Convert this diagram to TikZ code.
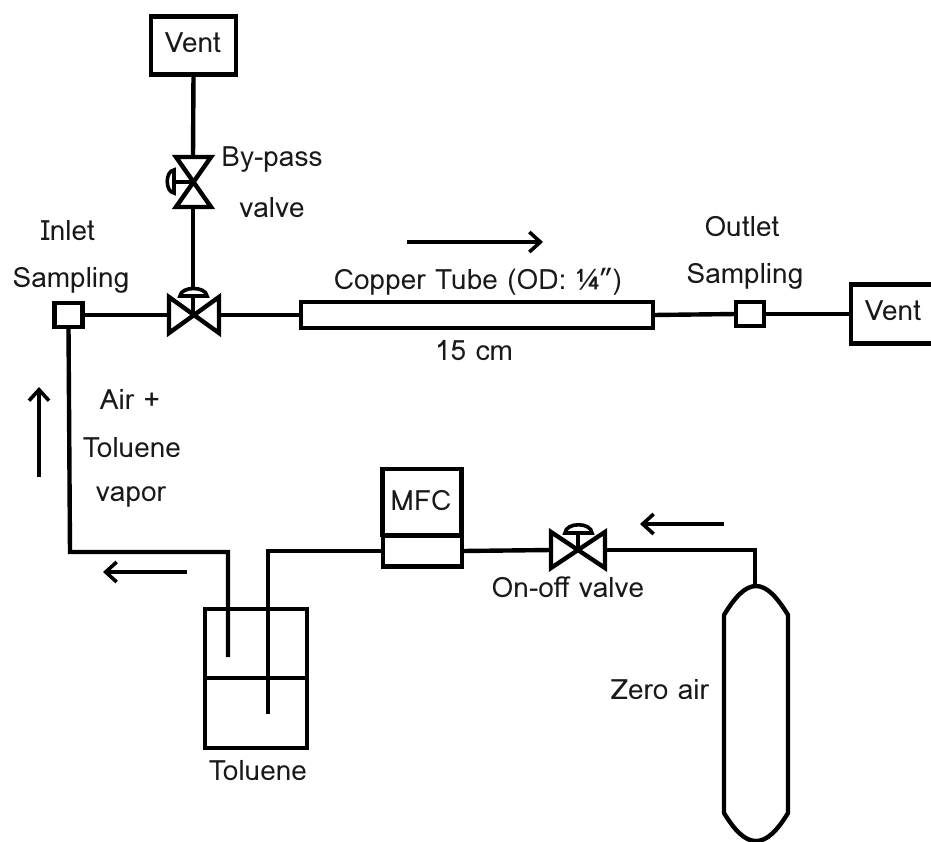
\documentclass[tikz,border=0pt]{standalone}
\usepackage{fontspec}
\usetikzlibrary{arrows.meta}
\setmainfont{Loma}
\tikzset{
  x=1pt,y=-1pt,
  pipe/.style={line width=4.4pt,line cap=butt,line join=miter},
  boxnode/.style={draw,line width=4.4pt,rectangle,inner sep=0pt,outer sep=0pt,fill=white},
  port/.style={boxnode,minimum width=28pt,minimum height=24pt},
  flow/.style={line width=3.6pt,-{Straight Barb[length=11pt,width=20pt,line width=3.6pt]}},
  valvebody/.style={line width=4.4pt,line join=miter,fill=white},
  lbl/.style={font=\fontsize{28}{32}\selectfont,inner sep=0pt,text=black!90},
}
\begin{document}
\begin{tikzpicture}
\useasboundingbox (0,0) rectangle (931,841);
% boxes
\node[boxnode,minimum width=85pt,minimum height=58pt] (ventA) at (193.5,45.5) {};
\node[boxnode,minimum width=90pt,minimum height=59pt] (ventB) at (896,314) {};
\node[port] (inlet) at (68.5,315) {};
\node[port] (outlet) at (750,314) {};
\node[boxnode,minimum width=352pt,minimum height=26pt] (tube) at (477,315) {};
\node[boxnode,minimum width=79pt,minimum height=66pt] (mfcA) at (422,502) {};
\node[boxnode,minimum width=79pt,minimum height=31pt] (mfcB) at (422.5,551) {};
% valve centres
\coordinate (byp) at (193,182);
\coordinate (main) at (193,315);
\coordinate (onoff) at (578,550);
\coordinate (bypT) at (193,157);
\coordinate (bypB) at (193,207);
\coordinate (mainL) at (169,315);
\coordinate (mainR) at (219,315);
\coordinate (mainT) at (193,288);
\coordinate (onL) at (551,550);
\coordinate (onR) at (605,550);
\coordinate (cylT) at (755,586);
\coordinate (c1) at (755,550);
% pipes
\draw[pipe] (ventA.south) -- (bypT);
\draw[pipe] (bypB) -- (mainT);
\draw[pipe] (inlet.east) -- (mainL);
\draw[pipe] (mainR) -- (tube.west);
\draw[pipe] (tube.east) -- (outlet.west);
\draw[pipe] (outlet.east) -- (ventB.west);
\draw[pipe] (inlet.south) -- (70,552) -- (228,552) -- (228,657);
\draw[pipe] (268,714) -- (268,551) -- (mfcB.west);
\draw[pipe] (mfcB.east) -- (onL);
\draw[pipe] (onR) -- (c1) -- (cylT);
% jar
\draw[line width=4.4pt] (205,609) rectangle (307,748);
\draw[line width=4.4pt] (205,678) -- (307,678);
% cylinder
\draw[line width=4.4pt,line join=round] (724,813) -- (724,615) .. controls (735,597) and (745,586) .. (756,586) .. controls (767,586) and (777,597) .. (788,615) -- (788,813) .. controls (777,831) and (767,841) .. (756,841) .. controls (745,841) and (735,831) .. (724,813) -- cycle;
% by-pass valve
\draw[valvebody] (176,157) -- (211,157) -- (176,207) -- (211,207) -- cycle;
\draw[line width=3.6pt] (byp) -- (175,182);
\draw[line width=3.6pt,fill=white] (174,170) .. controls (165,171) and (165,192) .. (174,193) -- cycle;
% main valve
\draw[valvebody] (169,297) -- (219,333) -- (219,297) -- (169,333) -- cycle;
\draw[line width=3.6pt] (main) -- (193,296);
\draw[line width=3.6pt,fill=white] (180,296) .. controls (181,286) and (206,286) .. (207,296) -- cycle;
% on-off valve
\draw[valvebody] (551,532) -- (605,568) -- (605,532) -- (551,568) -- cycle;
\draw[line width=3.6pt] (onoff) -- (578,533);
\draw[line width=3.6pt,fill=white] (565,533) .. controls (566,522) and (591,522) .. (592,533) -- cycle;
% flow arrows
\coordinate (aA) at (407,242); \coordinate (aB) at (543,242);
\coordinate (bA) at (39,477); \coordinate (bB) at (39,387);
\coordinate (cA) at (187,572); \coordinate (cB) at (103,572);
\coordinate (dA) at (724,524); \coordinate (dB) at (640,524);
\draw[flow] (aA) -- (aB);
\draw[flow] (bA) -- (bB);
\draw[flow] (cA) -- (cB);
\draw[flow] (dA) -- (dB);
% labels
\node[lbl] (t1) at (193,43) {Vent};
\node[lbl] (t2) at (272,160) {By-pass};
\node[lbl] (t3) at (272,208) {valve};
\node[lbl] (t4) at (68,231) {Inlet};
\node[lbl] (t5) at (71,280) {Sampling};
\node[lbl] (t6) at (478,282) {Copper Tube (OD: ¼”)};
\node[lbl] (t7) at (474,351) {15 cm};
\node[lbl] (t8) at (742,227) {Outlet};
\node[lbl] (t9) at (745,276) {Sampling};
\node[lbl] (t10) at (893,311) {Vent};
\node[lbl] (t11) at (130,399) {Air +};
\node[lbl] (t12) at (132,448) {Toluene};
\node[lbl] (t13) at (131,497) {vapor};
\node[lbl] (t14) at (421,501) {MFC};
\node[lbl] (t15) at (568,587) {On-off valve};
\node[lbl] (t16) at (258,771) {Toluene};
\node[lbl] (t17) at (660,690) {Zero air};
\end{tikzpicture}
\end{document}
